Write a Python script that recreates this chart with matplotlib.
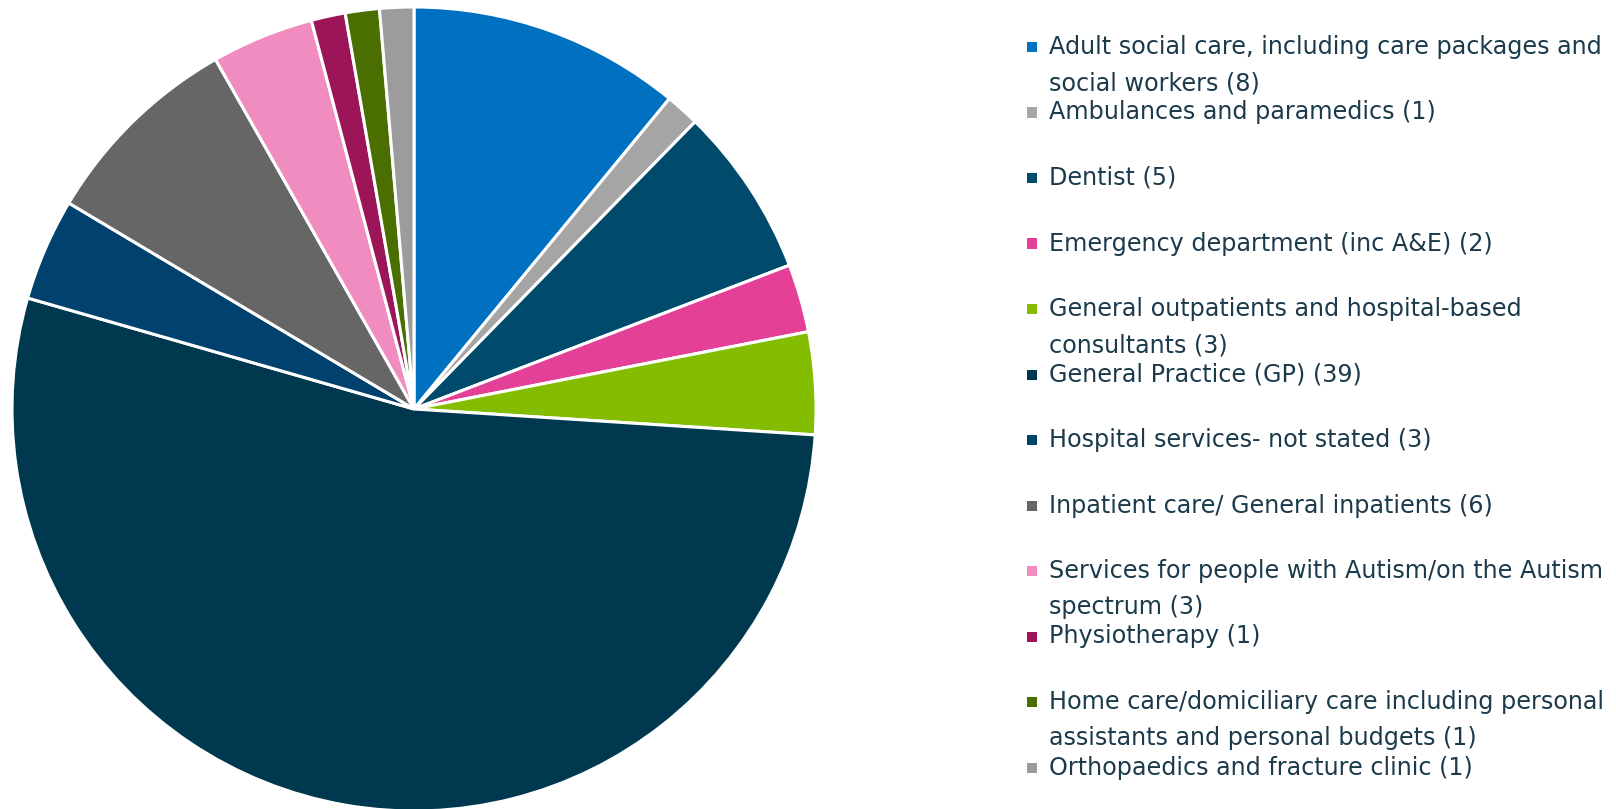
import matplotlib
matplotlib.use("Agg")
import matplotlib.pyplot as plt
from matplotlib.patches import Rectangle

# ----------------------------------------------------------------------
# Data
# ----------------------------------------------------------------------
labels = [
    "Adult social care, including care packages and\nsocial workers (8)",
    "Ambulances and paramedics (1)",
    "Dentist (5)",
    "Emergency department (inc A&E) (2)",
    "General outpatients and hospital-based\nconsultants (3)",
    "General Practice (GP) (39)",
    "Hospital services- not stated (3)",
    "Inpatient care/ General inpatients (6)",
    "Services for people with Autism/on the Autism\nspectrum (3)",
    "Physiotherapy (1)",
    "Home care/domiciliary care including personal\nassistants and personal budgets (1)",
    "Orthopaedics and fracture clinic (1)",
]
counts = [8, 1, 5, 2, 3, 39, 3, 6, 3, 1, 1, 1]
colors = [
    "#0070C0", "#A5A5A5", "#004B6B", "#E54097", "#84BD00", "#00384F",
    "#00416E", "#666666", "#F08CC0", "#9B1558", "#4A6F00", "#9C9C9C",
]

W, H = 1616, 809
TEXT_COLOR = "#1B3A4B"
plt.rcParams["font.family"] = ["DejaVu Sans"]

fig = plt.figure(figsize=(W / 100, H / 100), dpi=100)

# pie area in pixels: centre (414, 409), radius 402
cx, cy, r = 414, 409, 402
ax = fig.add_axes([(cx - r) / W, (H - cy - r) / H, 2 * r / W, 2 * r / H])
ax.pie(counts, colors=colors, startangle=90, counterclock=False,
       radius=1.0, wedgeprops=dict(edgecolor="white", linewidth=2.2))
ax.set_xlim(-1, 1)
ax.set_ylim(-1, 1)
ax.set_aspect("equal")
ax.axis("off")

# legend, drawn by hand so the slots match the reference
slot_top = 47
slot_step = 65.5
line_step = 36
sq = 10
for i, (lab, col) in enumerate(zip(labels, colors)):
    y0 = slot_top + i * slot_step
    fig.patches.append(Rectangle(((1032 - sq / 2) / W, (H - y0 - sq / 2) / H),
                                 sq / W, sq / H, transform=fig.transFigure,
                                 facecolor=col, edgecolor="none"))
    for k, line in enumerate(lab.split("\n")):
        fig.text(1049 / W, (H - (y0 + k * line_step)) / H, line,
                 fontsize=17.2, color=TEXT_COLOR, va="center", ha="left")

fig.savefig("out.png", dpi=100)
